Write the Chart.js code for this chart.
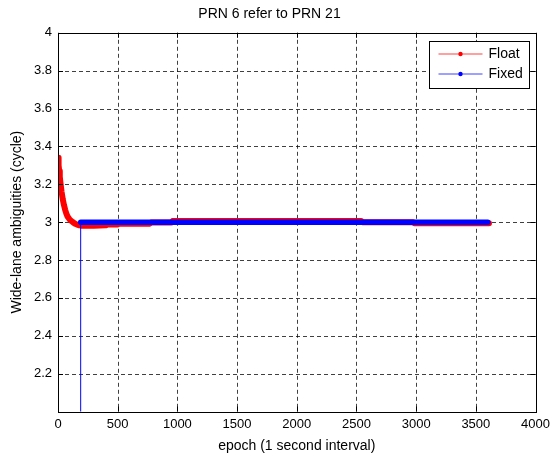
<!DOCTYPE html>
<html>
<head>
<meta charset="utf-8">
<script src="https://cdn.jsdelivr.net/npm/chart.js"></script>
<style>
html,body{margin:0;padding:0;background:#fff;}
#wrap{width:555px;height:455px;}
</style>
</head>
<body>
<div id="wrap"><canvas id="c" width="555" height="455"></canvas></div>
<script>
const chartTitle = 'PRN 6 refer to PRN 21';
const xTitle = 'epoch (1 second interval)';
const yTitle = 'Wide-lane ambiguities (cycle)';
const seriesNames = ['Float', 'Fixed'];

const xTicks = [0, 500, 1000, 1500, 2000, 2500, 3000, 3500, 4000];
const yTicks = [2.2, 2.4, 2.6, 2.8, 3, 3.2, 3.4, 3.6, 3.8, 4];

const floatEpochs = [0, 5, 10, 15, 20, 30, 40, 50, 60, 70, 80, 100, 120, 140, 160, 180, 200, 300, 400, 410, 500, 510, 770, 780, 950, 960, 2540, 2550, 2975, 2985, 3610];
const floatValues = [3.34, 3.30, 3.27, 3.24, 3.21, 3.16, 3.12, 3.09, 3.065, 3.045, 3.03, 3.012, 3.002, 2.993, 2.987, 2.983, 2.981, 2.981, 2.983, 2.987, 2.988, 2.992, 2.992, 2.998, 2.998, 3.006, 3.006, 3.0, 3.0, 2.994, 2.994];

const fixedEpochs = [190, 3600];
const fixedValues = [3, 3];

const fixedJumpEpochs = [190, 190];
const fixedJumpValues = [0, 3];

const FONT = '"Liberation Sans", Arial, Helvetica, sans-serif';
const toXY = (xs, ys) => xs.map((x, i) => ({x: x, y: ys[i]}));

const gridPlugin = {
  id: 'dashgrid',
  beforeDatasetsDraw(chart) {
    const {ctx, chartArea: a, scales} = chart;
    ctx.save();
    ctx.strokeStyle = 'rgba(0,0,0,0.75)';
    ctx.lineWidth = 1;
    ctx.setLineDash([4, 3]);
    ctx.beginPath();
    xTicks.forEach(v => {
      if (v <= scales.x.min || v >= scales.x.max) return;
      const x = Math.round(scales.x.getPixelForValue(v)) + 0.5;
      ctx.moveTo(x, a.top); ctx.lineTo(x, a.bottom);
    });
    yTicks.forEach(v => {
      if (v <= scales.y.min || v >= scales.y.max) return;
      const y = Math.round(scales.y.getPixelForValue(v)) + 0.5;
      ctx.moveTo(a.left, y); ctx.lineTo(a.right, y);
    });
    ctx.stroke();
    ctx.restore();
  }
};

const framePlugin = {
  id: 'frame',
  afterDraw(chart) {
    const {ctx, chartArea: a, scales} = chart;
    ctx.save();
    ctx.strokeStyle = '#000';
    ctx.lineWidth = 1;
    ctx.beginPath();
    xTicks.forEach(v => {
      const x = Math.round(scales.x.getPixelForValue(v)) + 0.5;
      ctx.moveTo(x, a.bottom); ctx.lineTo(x, a.bottom - 5);
      ctx.moveTo(x, a.top); ctx.lineTo(x, a.top + 5);
    });
    yTicks.forEach(v => {
      const y = Math.round(scales.y.getPixelForValue(v)) + 0.5;
      ctx.moveTo(a.left, y); ctx.lineTo(a.left + 5, y);
      ctx.moveTo(a.right, y); ctx.lineTo(a.right - 5, y);
    });
    ctx.stroke();
    ctx.strokeRect(Math.round(a.left) + 0.5, Math.round(a.top) + 0.5, Math.round(a.right - a.left), Math.round(a.bottom - a.top));

    // legend
    const bw = 100, bh = 47;
    const bx = Math.round(a.right) - 7 - bw + 0.5;
    const by = Math.round(a.top) + 8 + 0.5;
    ctx.fillStyle = '#fff';
    ctx.fillRect(bx, by, bw, bh);
    ctx.strokeStyle = '#000';
    ctx.strokeRect(bx, by, bw, bh);
    const cols = ['#ff0000', '#0000ff'];
    ctx.font = '14px ' + FONT;
    ctx.textBaseline = 'middle';
    seriesNames.forEach((name, i) => {
      const cy = by + 12.5 + i * 20;
      ctx.strokeStyle = cols[i];
      ctx.globalAlpha = 0.75;
      ctx.beginPath();
      ctx.moveTo(bx + 9, cy); ctx.lineTo(bx + 53, cy);
      ctx.stroke();
      ctx.globalAlpha = 1;
      ctx.fillStyle = cols[i];
      ctx.beginPath();
      ctx.arc(bx + 31, cy, 2.2, 0, Math.PI * 2);
      ctx.fill();
      ctx.fillStyle = '#000';
      ctx.fillText(name, bx + 59, cy + 0.5);
    });
    ctx.restore();
  }
};

new Chart(document.getElementById('c'), {
  type: 'line',
  data: {
    datasets: [
      {
        label: seriesNames[1],
        data: toXY(fixedEpochs, fixedValues),
        borderColor: '#0000ff',
        borderWidth: 5.5,
        borderCapStyle: 'round',
        pointRadius: 0,
        fill: false,
        order: 0
      },
      {
        label: seriesNames[1] + ' jump',
        data: toXY(fixedJumpEpochs, fixedJumpValues),
        borderColor: '#0000ff',
        borderWidth: 1,
        pointRadius: 0,
        fill: false,
        order: 1
      },
      {
        label: seriesNames[0],
        data: toXY(floatEpochs, floatValues),
        borderColor: '#ff0000',
        borderWidth: 6,
        borderCapStyle: 'round',
        borderJoinStyle: 'round',
        pointRadius: 0,
        fill: false,
        order: 2
      }
    ]
  },
  options: {
    responsive: false,
    animation: false,
    events: [],
    layout: {padding: {left: 0, right: 16, top: 0, bottom: 0}},
    plugins: {
      legend: {display: false},
      tooltip: {enabled: false},
      title: {
        display: true,
        text: chartTitle,
        color: '#000',
        font: {family: FONT, size: 14, weight: 'normal'},
        padding: {top: 6, bottom: 10}
      }
    },
    scales: {
      x: {
        type: 'linear',
        min: 0,
        max: 4000,
        afterBuildTicks: s => { s.ticks = xTicks.map(v => ({value: v})); },
        afterFit: s => { s.height = 43.5; },
        ticks: {color: '#000', font: {family: FONT, size: 13}, padding: 5, maxRotation: 0, autoSkip: false, callback: v => String(v)},
        grid: {display: false, drawTicks: false},
        border: {display: false},
        title: {display: true, text: xTitle, color: '#000', font: {family: FONT, size: 14}, padding: {top: 0, bottom: 0}}
      },
      y: {
        type: 'linear',
        min: 2,
        max: 4,
        afterBuildTicks: s => { s.ticks = yTicks.map(v => ({value: v})); },
        afterFit: s => { s.width = 58; },
        ticks: {color: '#000', font: {family: FONT, size: 13}, padding: 6, callback: v => String(Math.round(v * 10) / 10)},
        grid: {display: false, drawTicks: false},
        border: {display: false},
        title: {display: true, text: yTitle, color: '#000', font: {family: FONT, size: 14}, padding: {top: 9, bottom: 4}}
      }
    }
  },
  plugins: [gridPlugin, framePlugin]
});
</script>
</body>
</html>
